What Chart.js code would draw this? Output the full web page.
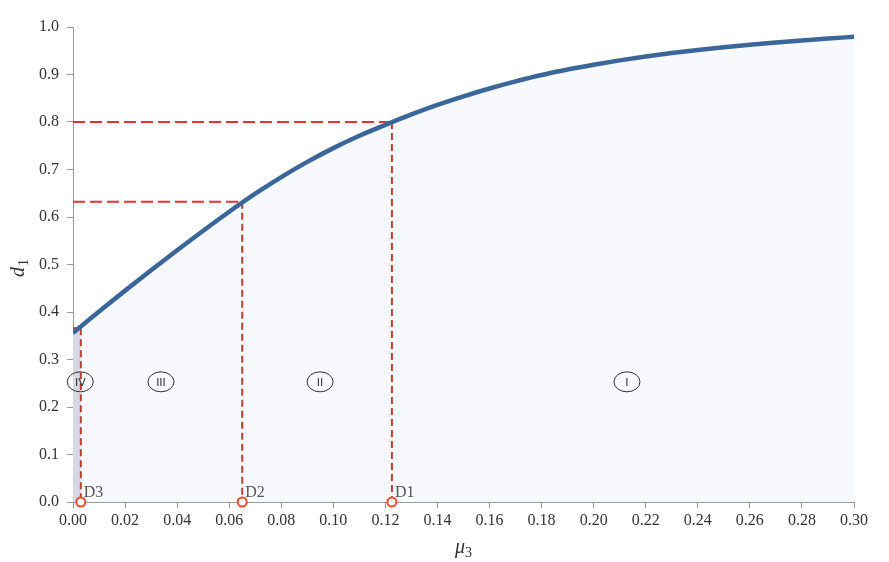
<!DOCTYPE html>
<html>
<head>
<meta charset="utf-8">
<script src="https://cdn.jsdelivr.net/npm/chart.js@4"></script>
<style>
html,body{margin:0;padding:0;background:#fff;}
#wrap{width:889px;height:562px;position:relative;}
</style>
</head>
<body>
<div id="wrap"><canvas id="c" width="889" height="562"></canvas></div>
<script>
// ---- data ----
const muValues = [0.00,0.01,0.02,0.03,0.04,0.05,0.06,0.07,0.08,0.09,0.10,0.11,0.12,0.13,0.14,0.15,0.16,0.17,0.18,0.19,0.20,0.21,0.22,0.23,0.24,0.25,0.26,0.27,0.28,0.29,0.30];
const d1Values = [0.356,0.401,0.445,0.488,0.530,0.571,0.611,0.649,0.684,0.716,0.745,0.771,0.794,0.816,0.836,0.854,0.8705,0.8855,0.899,0.9105,0.9205,0.9297,0.9379,0.9452,0.9517,0.9575,0.9627,0.9674,0.9717,0.9757,0.9794];
const criticalLabels = ['D1','D2','D3'];
const criticalMu = [0.1225,0.065,0.003];
const criticalD = [0.800,0.632,0.366];
const regionLabels = ['I','II','III','IV'];
const regionMu = [0.2128,0.0949,0.0338,0.0028];
const regionD = [0.253,0.253,0.253,0.253];
const xTicksStep = 0.02;
const yTicksStep = 0.1;
const xTitle = ['μ','3'];
const yTitle = ['d','1'];

const serif = '"Liberation Serif","DejaVu Serif",serif';
const curvePts = muValues.map((m,i)=>({x:m,y:d1Values[i]}));
const ivIdx = criticalLabels.indexOf('D3');
const ivPts = [{x:0,y:d1Values[0]},{x:criticalMu[ivIdx],y:criticalD[ivIdx]}];

const datasets = [];
datasets.push({type:'line',data:curvePts,borderColor:'rgba(0,0,0,0)',borderWidth:0,pointRadius:0,fill:'origin',backgroundColor:'#f7f9fc',cubicInterpolationMode:'monotone',order:10});
datasets.push({type:'line',data:ivPts,borderColor:'rgba(0,0,0,0)',borderWidth:0,pointRadius:0,fill:'origin',backgroundColor:'#d6d9e5',order:9});
criticalMu.forEach((m,i)=>{
  datasets.push({type:'line',data:[{x:0,y:criticalD[i]},{x:m,y:criticalD[i]}],borderColor:'#e8322e',borderWidth:2,borderDash:[12,5],pointRadius:0,fill:false,order:3});
  datasets.push({type:'line',data:[{x:m,y:criticalD[i]},{x:m,y:0}],borderColor:'#c43a30',borderWidth:2,borderDash:[7,4],pointRadius:0,fill:false,order:3});
});
datasets.push({type:'line',data:curvePts,borderColor:'#3a6699',borderWidth:4.5,pointRadius:0,fill:false,cubicInterpolationMode:'monotone',order:2});
datasets.push({type:'scatter',data:criticalMu.map(m=>({x:m,y:0})),pointRadius:4.5,pointBorderWidth:2,pointBorderColor:'#ee4a2f',pointBackgroundColor:'#ffffff',clip:false,order:1});

const annot = {
  id:'annot',
  afterDatasetsDraw(chart){
    const ctx = chart.ctx, xs = chart.scales.x, ys = chart.scales.y, ca = chart.chartArea;
    ctx.save();
    // D labels
    ctx.font = '16px '+serif; ctx.fillStyle = '#555'; ctx.textAlign='left'; ctx.textBaseline='alphabetic';
    criticalMu.forEach((m,i)=>{
      ctx.fillText(criticalLabels[i], xs.getPixelForValue(m)+3, ys.getPixelForValue(0)-5);
    });
    // region ellipses
    ctx.font = '11px "DejaVu Sans",sans-serif'; ctx.textAlign='center'; ctx.textBaseline='middle';
    regionLabels.forEach((t,i)=>{
      const px = xs.getPixelForValue(regionMu[i]), py = ys.getPixelForValue(regionD[i]);
      ctx.beginPath(); ctx.ellipse(px,py,13,10,0,0,Math.PI*2);
      ctx.strokeStyle='#333'; ctx.lineWidth=1; ctx.stroke();
      ctx.fillStyle='#333'; ctx.fillText(t,px,py+1);
    });
    // axis titles
    ctx.fillStyle='#333'; ctx.textAlign='left'; ctx.textBaseline='alphabetic';
    const cx = (ca.left+ca.right)/2;
    ctx.font='italic 20px '+serif;
    const w1 = ctx.measureText(xTitle[0]).width;
    ctx.font='14px '+serif;
    const w2 = ctx.measureText(xTitle[1]).width;
    const sx = cx - (w1+w2)/2;
    ctx.font='italic 20px '+serif; ctx.fillText(xTitle[0], sx, 553);
    ctx.font='14px '+serif; ctx.fillText(xTitle[1], sx+w1, 557);
    ctx.save();
    ctx.translate(24,(ca.top+ca.bottom)/2+4);
    ctx.rotate(-Math.PI/2);
    ctx.font='italic 20px '+serif;
    const v1 = ctx.measureText(yTitle[0]).width;
    ctx.font='14px '+serif;
    const v2 = ctx.measureText(yTitle[1]).width;
    const sy = -(v1+v2)/2;
    ctx.font='italic 20px '+serif; ctx.fillText(yTitle[0], sy, 0);
    ctx.font='14px '+serif; ctx.fillText(yTitle[1], sy+v1+1, 4);
    ctx.restore();
    ctx.restore();
  }
};

new Chart(document.getElementById('c'),{
  type:'line',
  data:{datasets},
  options:{
    responsive:false,animation:false,
    layout:{padding:{top:27,right:35,left:0,bottom:0}},
    plugins:{legend:{display:false},tooltip:{enabled:false}},
    scales:{
      x:{type:'linear',min:0,max:0.3,
        ticks:{stepSize:xTicksStep,callback:v=>Number(v).toFixed(2),font:{family:serif,size:16},color:'#333',padding:3,maxRotation:0},
        grid:{drawOnChartArea:false,tickLength:6,color:'#999'},
        border:{color:'#999',width:1},
        afterFit(s){s.height=60;}
      },
      y:{type:'linear',min:0,max:1,
        ticks:{stepSize:yTicksStep,callback:v=>Number(v).toFixed(1),font:{family:serif,size:16},color:'#333',padding:8},
        grid:{drawOnChartArea:false,tickLength:6,color:'#999'},
        border:{color:'#999',width:1},
        afterFit(s){s.width=73;}
      }
    }
  },
  plugins:[annot]
});
</script>
</body>
</html>
